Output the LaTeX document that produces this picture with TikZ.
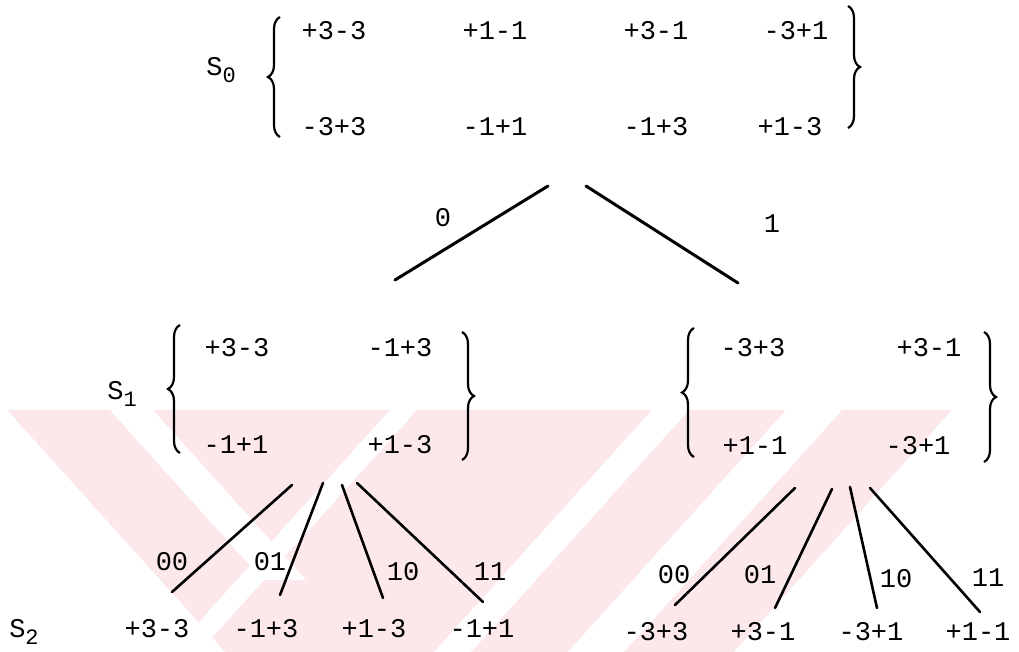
\documentclass[tikz,border=0pt]{standalone}
\usepackage{fontspec}
\setmainfont{Liberation Mono}
\usetikzlibrary{decorations.pathreplacing}
\definecolor{wmPink}{HTML}{FCE8EB}
\newcommand{\setfont}{\fontsize{13.5}{16}\selectfont}
\newcommand{\subidx}[1]{\raisebox{-3.5pt}{\fontsize{11}{11}\selectfont #1}}
\tikzset{
  elem/.style={font=\setfont, inner sep=0pt},
  slabel/.style={font=\setfont, inner sep=0pt},
  bit/.style={font=\setfont, inner sep=0pt},
  branch/.style={line width=1.5pt, line cap=round},
  twig/.style={line width=1.3pt, line cap=round},
  lbrace/.style={decorate, decoration={brace, amplitude=6pt}, line width=1.1pt},
  wm/.style={fill=wmPink},
  wmgap/.style={fill=white},
}

\begin{document}
\begin{tikzpicture}[x=0.5pt,y=-0.5pt]
  \useasboundingbox (0,0) rectangle (1019,652);
  % watermark behind the tree
  \fill[wm] (0,410) rectangle (1019,652);
  \fill[wmgap] (0,410) -- (7,410) -- (225,652) -- (0,652) -- cycle;
  \fill[wmgap] (110,410) -- (153,410) -- (306,580) -- (263,580) -- cycle;
  \fill[wmgap] (390,410) -- (417,410) -- (199,652) -- (172,652) -- cycle;
  \fill[wmgap] (652,410) -- (689,410) -- (471,652) -- (434,652) -- cycle;
  \fill[wmgap] (786,410) -- (842,410) -- (624,652) -- (568,652) -- cycle;
  \fill[wmgap] (952,410) -- (1019,410) -- (1019,652) -- (734,652) -- cycle;

  % S0
  \node[slabel] (s0) at (221,70) {S\subidx{0}};
  \node[elem] (a11) at (334,31) {+3-3};
  \node[elem] (a12) at (495,31) {+1-1};
  \node[elem] (a13) at (656,31) {+3-1};
  \node[elem] (a14) at (796,31) {-3+1};
  \node[elem] (a21) at (334,127) {-3+3};
  \node[elem] (a22) at (495,127) {-1+1};
  \node[elem] (a23) at (656,127) {-1+3};
  \node[elem] (a24) at (790,127) {+1-3};
  \draw[lbrace] (280,137) -- (280,17);
  \draw[lbrace] (848,6) -- (848,128);

  % S1, left set
  \node[slabel] (s1) at (122,394) {S\subidx{1}};
  \node[elem] (b11) at (237,348) {+3-3};
  \node[elem] (b12) at (400,348) {-1+3};
  \node[elem] (b21) at (236,445) {-1+1};
  \node[elem] (b22) at (400,445) {+1-3};
  \draw[lbrace] (180,453) -- (180,325);
  \draw[lbrace] (462,332) -- (462,460);

  % S1, right set
  \node[elem] (c11) at (753,348) {-3+3};
  \node[elem] (c12) at (929,348) {+3-1};
  \node[elem] (c21) at (755,446) {+1-1};
  \node[elem] (c22) at (918,446) {-3+1};
  \draw[lbrace] (694,457) -- (694,328);
  \draw[lbrace] (984,332) -- (984,462);

  % S2
  \node[slabel] (s2) at (24,632) {S\subidx{2}};
  \node[elem] (d1) at (157,629) {+3-3};
  \node[elem] (d2) at (266,629) {-1+3};
  \node[elem] (d3) at (374,629) {+1-3};
  \node[elem] (d4) at (482,629) {-1+1};
  \node[elem] (e1) at (656,632) {-3+3};
  \node[elem] (e2) at (763,632) {+3-1};
  \node[elem] (e3) at (871,632) {-3+1};
  \node[elem] (e4) at (978,632) {+1-1};

  % branch ends
  \coordinate (t0) at (548,186); \coordinate (h0) at (395,280);
  \coordinate (t1) at (586,186); \coordinate (h1) at (738,283);
  \coordinate (p00) at (292,485); \coordinate (q00) at (172,592);
  \coordinate (p01) at (323,483); \coordinate (q01) at (280,595);
  \coordinate (p10) at (342,485); \coordinate (q10) at (383,598);
  \coordinate (p11) at (357,483); \coordinate (q11) at (483,602);
  \coordinate (u00) at (795,488); \coordinate (v00) at (675,605);
  \coordinate (u01) at (832,489); \coordinate (v01) at (775,608);
  \coordinate (u10) at (850,487); \coordinate (v10) at (877,608);
  \coordinate (u11) at (870,488); \coordinate (v11) at (980,612);

  \draw[branch] (t0) -- (h0);
  \draw[branch] (t1) -- (h1);
  \draw[twig] (p00) -- (q00);
  \draw[twig] (p01) -- (q01);
  \draw[twig] (p10) -- (q10);
  \draw[twig] (p11) -- (q11);
  \draw[twig] (u00) -- (v00);
  \draw[twig] (u01) -- (v01);
  \draw[twig] (u10) -- (v10);
  \draw[twig] (u11) -- (v11);

  % branch labels
  \node[bit] (k0) at (443,218) {0};
  \node[bit] (k1) at (772,224) {1};
  \node[bit] (m00) at (172,562) {00};
  \node[bit] (m01) at (270,562) {01};
  \node[bit] (m10) at (403,572) {10};
  \node[bit] (m11) at (490,572) {11};
  \node[bit] (n00) at (674,575) {00};
  \node[bit] (n01) at (760,575) {01};
  \node[bit] (n10) at (896,579) {10};
  \node[bit] (n11) at (988,578) {11};
\end{tikzpicture}
\end{document}
